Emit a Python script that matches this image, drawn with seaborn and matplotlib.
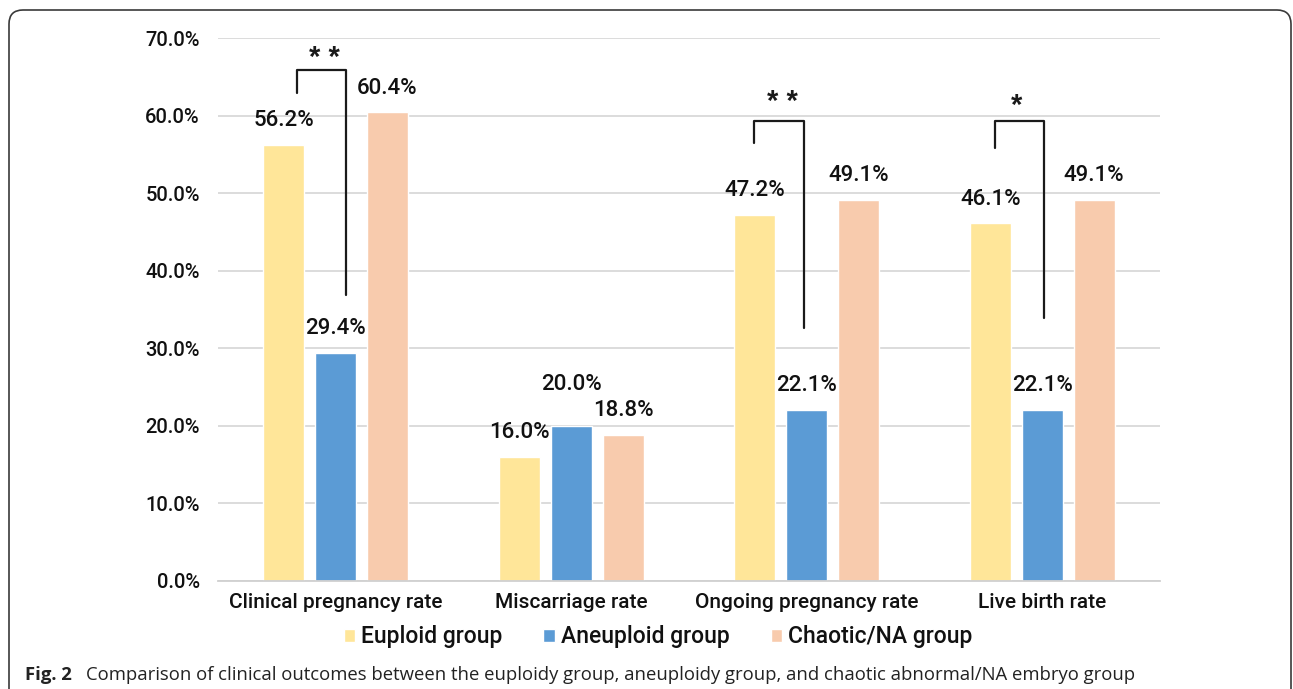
import matplotlib
matplotlib.use("Agg")
import matplotlib.pyplot as plt
from matplotlib.patches import FancyBboxPatch
from matplotlib.transforms import IdentityTransform
import pandas as pd
import seaborn as sns

# Outcome rates (%) for each embryo group
categories = ["Clinical pregnancy rate", "Miscarriage rate",
              "Ongoing pregnancy rate", "Live birth rate"]
groups = ["Euploid group", "Aneuploid group", "Chaotic/NA group"]
euploid = [56.2, 16.0, 47.2, 46.1]
aneuploid = [29.4, 20.0, 22.1, 22.1]
chaotic = [60.4, 18.8, 49.1, 49.1]
y_ticks = [0, 10, 20, 30, 40, 50, 60, 70]
significance = ["* *", "", "* *", "*"]

df = pd.DataFrame({
    "category": categories * 3,
    "group": [g for g in groups for _ in categories],
    "rate": euploid + aneuploid + chaotic,
})

palette = {"Euploid group": "#FFE699", "Aneuploid group": "#5B9BD5",
           "Chaotic/NA group": "#F8CBAD"}

sns.set_theme(style="white")
plt.rcParams["font.family"] = ["Roboto", "Liberation Sans", "DejaVu Sans"]
NUM_FONT = dict(family=["Roboto", "Liberation Sans", "DejaVu Sans"], weight="medium")
TXT_COLOR = "#111111"

W, H = 1293, 689
fig = plt.figure(figsize=(W / 100, H / 100), dpi=100)
ax = fig.add_axes([218 / W, (H - 581) / H, (1160 - 218) / W, (581 - 38) / H])

sns.barplot(data=df, x="category", y="rate", hue="group", order=categories,
            hue_order=groups, palette=palette, width=0.66, gap=0.21,
            saturation=1, ax=ax)

ax.set_ylim(0, 70)
ax.set_xlim(-0.5, 3.5)
ax.set_yticks(y_ticks)
ax.set_yticklabels([f"{t:.1f}%" for t in y_ticks], fontsize=14.5,
                   color=TXT_COLOR, **NUM_FONT)
ax.tick_params(axis="y", length=0, pad=13)
ax.tick_params(axis="x", length=0, pad=9)
for lbl in ax.get_xticklabels():
    lbl.set_fontsize(15)
    lbl.set_color(TXT_COLOR)
    lbl.set_fontweight("medium")
ax.set_xlabel("")
ax.set_ylabel("")
ax.yaxis.grid(True, color="#D9D9D9", linewidth=1.3)
ax.set_axisbelow(True)
for side in ["top", "right", "left"]:
    ax.spines[side].set_visible(False)
ax.spines["bottom"].set_color("#D0D0D0")
ax.spines["bottom"].set_linewidth(1.3)

# value labels on top of the bars
for ci, container in enumerate(ax.containers):
    for bi, bar in enumerate(container):
        h = bar.get_height()
        pad = 22 if (ci == 1 and bi == 1) else 10
        ax.annotate(f"{h:.1f}%", (bar.get_x() + bar.get_width() / 2, h),
                    xytext=(0, pad), textcoords="offset points",
                    ha="center", va="bottom", fontsize=16, color=TXT_COLOR,
                    **NUM_FONT)

# significance brackets between euploid and aneuploid groups
brackets = {
    0: dict(x0=-0.165, x1=0.044, top=65.9, left=62.9, right=36.9, star=(-0.046, 67.4)),
    2: dict(x0=1.776, x1=1.988, top=59.3, left=56.5, right=32.6, star=(1.895, 61.7)),
    3: dict(x0=2.800, x1=3.007, top=59.3, left=55.8, right=33.9, star=(2.889, 61.3)),
}
for idx, b in brackets.items():
    ax.plot([b["x0"], b["x0"], b["x1"], b["x1"]],
            [b["left"], b["top"], b["top"], b["right"]],
            color="#1a1a1a", linewidth=1.6, clip_on=False, zorder=5)
    ax.text(b["star"][0], b["star"][1], significance[idx], ha="center", va="center",
            fontsize=21, fontweight="bold", color="#1a1a1a",
            family=["Liberation Sans", "DejaVu Sans"])

handles, labels = ax.get_legend_handles_labels()
leg = ax.legend(handles, labels, loc="center", bbox_to_anchor=(0.467, -0.103),
                ncol=3, frameon=False, fontsize=16.5, handlelength=0.5,
                handleheight=0.5, handletextpad=0.25, columnspacing=1.8,
                labelcolor=TXT_COLOR)
for t in leg.get_texts():
    t.set_fontweight("medium")

# caption
cap_font = ["Open Sans", "DejaVu Sans"]
fig.text(25 / W, (H - 675) / H, "Fig. 2", fontsize=13.3, fontweight="bold",
         family=cap_font, va="center", ha="left", color="#222222")
fig.text(86 / W, (H - 675) / H,
         "Comparison of clinical outcomes between the euploidy group, aneuploidy group, "
         "and chaotic abnormal/NA embryo group",
         fontsize=13.3, family=cap_font, va="center", ha="left", color="#222222")

# rounded frame around the figure
frame = FancyBboxPatch((9, -30), 1282, H - 10 + 30, boxstyle="round,pad=0,rounding_size=14",
                       transform=IdentityTransform(), fill=False,
                       edgecolor="#3a3a3a", linewidth=1.2)
fig.patches.append(frame)

fig.savefig("out.png", dpi=100)
